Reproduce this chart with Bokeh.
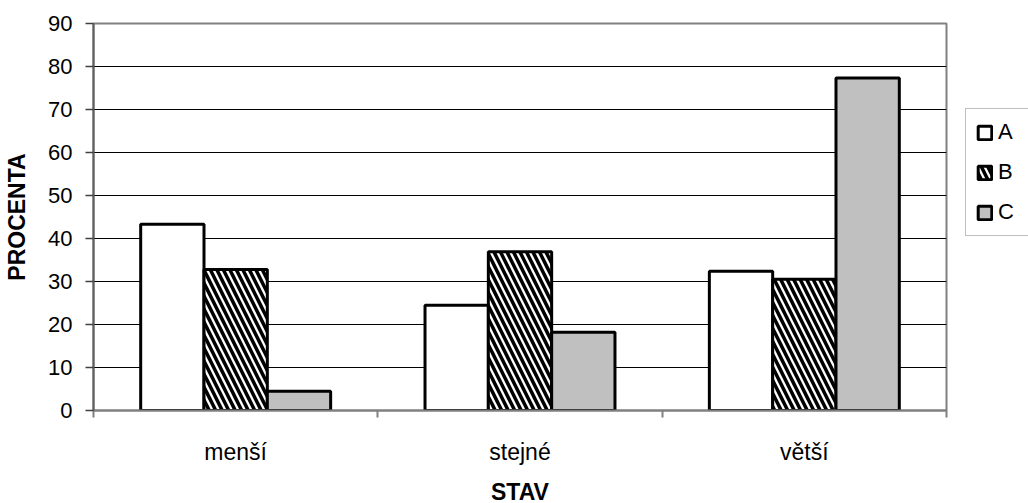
import numpy as np
from bokeh.plotting import figure
from bokeh.models import FixedTicker, Range1d, Legend, LegendItem, ColumnDataSource
from bokeh.embed import file_html
from bokeh.resources import INLINE

categories = ["menší", "stejné", "větší"]
series = ["A", "B", "C"]
values_A = [43.3, 24.5, 32.4]
values_B = [32.8, 36.9, 30.5]
values_C = [4.5, 18.2, 77.3]
y_ticks = [0, 10, 20, 30, 40, 50, 60, 70, 80, 90]

FONT = "Liberation Sans"
bar_w = 0.2227

p = figure(frame_width=853, frame_height=387,
           output_backend="svg", toolbar_location=None,
           x_range=Range1d(0, len(categories)), y_range=Range1d(0, 90),
           min_border_left=93, min_border_top=23, min_border_right=82, min_border_bottom=93)
p.background_fill_color = "white"
p.border_fill_color = "white"
p.outline_line_color = "#808080"
p.outline_line_width = 2
p.xgrid.visible = False
p.ygrid.grid_line_color = "black"
p.ygrid.grid_line_width = 1

idx = np.arange(len(categories))
styles = [
    dict(fill_color="white"),
    dict(fill_color="white", hatch_pattern="left_diagonal_line", hatch_color="black",
         hatch_scale=13, hatch_weight=3.5),
    dict(fill_color="#C0C0C0"),
]
renderers = []
for j, (name, vals) in enumerate(zip(series, [values_A, values_B, values_C])):
    src = ColumnDataSource(dict(x=idx + 0.5 + (j - 1) * bar_w, top=vals))
    r = p.vbar(x="x", top="top", bottom=0, width=bar_w, source=src,
               line_color="black", line_width=3, **styles[j])
    renderers.append(r)

# x axis
xt = FixedTicker(ticks=list(idx + 0.5), minor_ticks=list(range(len(categories) + 1)))
p.xaxis.ticker = xt
p.xaxis.major_label_overrides = {float(i + 0.5): c for i, c in enumerate(categories)}
p.xaxis.major_tick_out = 0
p.xaxis.major_tick_in = 0
p.xaxis.minor_tick_out = 7
p.xaxis.minor_tick_in = 0
p.xaxis.minor_tick_line_color = "#808080"
p.xaxis.minor_tick_line_width = 2
p.xaxis.axis_line_color = "#808080"
p.xaxis.axis_line_width = 2
p.xaxis.major_label_text_font = FONT
p.xaxis.major_label_text_font_size = "23px"
p.xaxis.major_label_text_color = "black"
p.xaxis.major_label_standoff = 21
p.xaxis.axis_label = "STAV"
p.xaxis.axis_label_text_font = FONT
p.xaxis.axis_label_text_font_size = "23px"
p.xaxis.axis_label_text_font_style = "bold"
p.xaxis.axis_label_text_color = "black"
p.xaxis.axis_label_standoff = 11

# y axis
p.yaxis.ticker = FixedTicker(ticks=y_ticks)
p.yaxis.major_tick_out = 8
p.yaxis.major_tick_in = 0
p.yaxis.minor_tick_out = 0
p.yaxis.minor_tick_in = 0
p.yaxis.major_tick_line_color = "#404040"
p.yaxis.major_tick_line_width = 1.5
p.yaxis.axis_line_color = "#606060"
p.yaxis.axis_line_width = 2
p.yaxis.major_label_text_font = FONT
p.yaxis.major_label_text_font_size = "22px"
p.yaxis.major_label_text_color = "black"
p.yaxis.major_label_standoff = 13
p.yaxis.axis_label = "PROCENTA"
p.yaxis.axis_label_text_font = FONT
p.yaxis.axis_label_text_font_size = "23px"
p.yaxis.axis_label_text_font_style = "bold"
p.yaxis.axis_label_text_color = "black"
p.yaxis.axis_label_standoff = 15

legend = Legend(items=[LegendItem(label=s, renderers=[r]) for s, r in zip(series, renderers)],
                location=(19, 174), orientation="vertical")
legend.label_text_font = FONT
legend.label_text_font_size = "22px"
legend.label_text_color = "black"
legend.glyph_width = 17
legend.glyph_height = 17
legend.label_height = 25
legend.label_standoff = 5
legend.spacing = 14
legend.padding = 10
legend.margin = 0
legend.border_line_color = "#808080"
legend.border_line_width = 1.5
legend.background_fill_alpha = 1
p.add_layout(legend, "right")

open("out.html", "w").write(file_html(p, INLINE))
